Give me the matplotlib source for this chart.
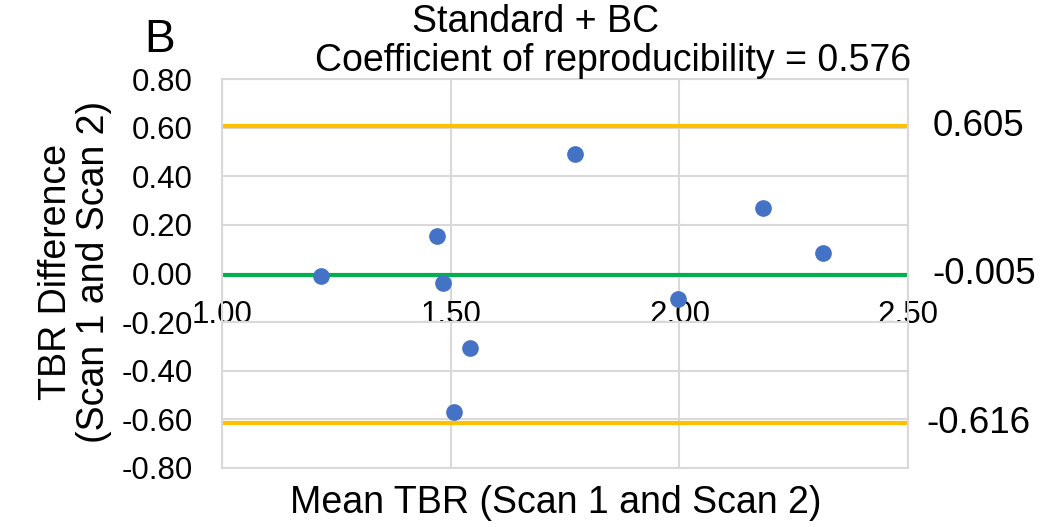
import matplotlib.pyplot as plt
import numpy as np

plt.rcParams['font.family'] = ['Liberation Sans', 'DejaVu Sans']

# --- Dados ---
mean_tbr = [1.216, 1.470, 1.484, 1.543, 1.507, 1.772, 1.996, 2.182, 2.313]
diff_tbr = [-0.010, 0.154, -0.039, -0.305, -0.571, 0.492, -0.106, 0.271, 0.083]

bias = -0.005
loa_upper = 0.605
loa_lower = -0.616

x_ticks = [1.00, 1.50, 2.00, 2.50]
y_ticks = [-0.80, -0.60, -0.40, -0.20, 0.00, 0.20, 0.40, 0.60, 0.80]

# --- Cores ---
point_color = '#4472C4'
bias_color = '#00B050'
loa_color = '#FFC000'
grid_color = '#D9D9D9'

fig = plt.figure(figsize=(10.43, 5.27), dpi=100)
ax = fig.add_axes([0.2129, 0.1120, 0.6577, 0.7380])

ax.set_xlim(1.0, 2.5)
ax.set_ylim(-0.8, 0.8)
ax.set_xticks(x_ticks)
ax.set_yticks(y_ticks)
ax.set_xticklabels([f'{v:.2f}' for v in x_ticks])
ax.set_yticklabels([f'{v:.2f}' for v in y_ticks])
ax.grid(True, color=grid_color, linewidth=1.5, zorder=0)
ax.set_axisbelow(True)

# eixo x cruzando em y = 0 (estilo Excel)
ax.spines['bottom'].set_position(('data', 0))
ax.spines['bottom'].set_visible(False)
for s in ['left', 'right', 'top']:
    ax.spines[s].set_color(grid_color)
    ax.spines[s].set_linewidth(1.5)
ax.axhline(-0.8, color=grid_color, linewidth=1.5, clip_on=False, zorder=0)

ax.tick_params(axis='x', length=0, pad=19, labelsize=22.5)
ax.tick_params(axis='y', length=0, pad=21, labelsize=22.5)

# --- Linhas de bias e limites ---
ax.axhline(loa_upper, color=loa_color, linewidth=3, zorder=2)
ax.axhline(bias, color=bias_color, linewidth=3, zorder=2)
ax.axhline(loa_lower, color=loa_color, linewidth=3, zorder=2)

ax.plot(mean_tbr, diff_tbr, linestyle='none', marker='o', markersize=11,
        color=point_color, zorder=3, clip_on=False)

# rótulos à direita
trans = ax.get_yaxis_transform()
for val, dx in [(loa_upper, 1.036), (bias, 1.035), (loa_lower, 1.027)]:
    ax.text(dx, val, f'{val:.3f}', transform=trans, ha='left', va='center',
            fontsize=26.5)

# --- Títulos e rótulos ---
fig.text(536 / 1043, 1 - 22 / 527, 'Standard + BC', ha='center', va='center',
         fontsize=27)
fig.text(613 / 1043, 1 - 61 / 527, 'Coefficient of reproducibility = 0.576',
         ha='center', va='center', fontsize=27)
fig.text(160 / 1043, 1 - 40 / 527, 'B', ha='center', va='center', fontsize=33)

fig.text(556 / 1043, 1 - 503 / 527, 'Mean TBR (Scan 1 and Scan 2)',
         ha='center', va='center', fontsize=27)
fig.text(75 / 1043, 1 - 272 / 527, 'TBR Difference\n(Scan 1 and Scan 2)',
         ha='center', va='center', rotation=90, fontsize=27, linespacing=1.05)

fig.savefig('out.png', dpi=100)
